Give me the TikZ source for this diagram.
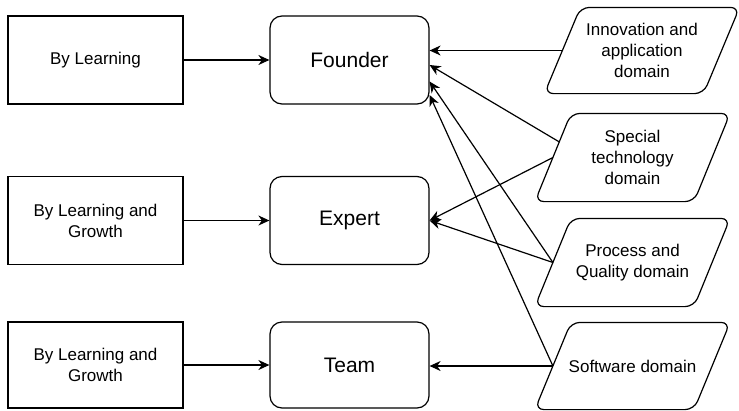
\documentclass[tikz,border=0pt]{standalone}
\usepackage{fontspec}
\setmainfont{Liberation Sans}
\usetikzlibrary{arrows.meta,calc}
\begin{document}
\begin{tikzpicture}[x=1pt,y=-1pt,
  line width=1.2pt,
  every node/.style={font=\fontsize{17}{21}\selectfont, align=center},
  plainbox/.style={draw, minimum width=175pt, minimum height=88pt, inner sep=0pt},
  rolebox/.style={draw, rounded corners=12pt, minimum width=159pt, minimum height=88pt, inner sep=0pt, font=\fontsize{21}{25}\selectfont},
  domainbox/.style={minimum width=158pt, minimum height=87pt, inner sep=0pt},
  arr/.style={-{Stealth[length=11pt,width=10pt,inset=3.5pt]}}]
\useasboundingbox (0,0) rectangle (739,410);

% sources of growth
\node[plainbox] (l1) at (95.5,60) {By Learning};
\node[plainbox] (l2) at (95.5,220.5) {By Learning and\\Growth};
\node[plainbox, minimum height=86pt] (l3) at (95.5,365) {By Learning and\\Growth};

% roles
\node[rolebox] (founder) at (349.5,60) {Founder};
\node[rolebox] (expert) at (349.5,220.5) {Expert};
\node[rolebox, minimum height=86pt] (team) at (349.5,365) {Team};

% knowledge domains
\node[domainbox, minimum height=85pt] (inn) at (642,50.5) {Innovation and\\application\\domain};
\node[domainbox] (spec) at (632.5,157.5) {Special\\technology\\domain};
\node[domainbox] (proc) at (632.5,262.5) {Process and\\Quality domain};
\node[domainbox, minimum height=86pt] (soft) at (632.5,366) {Software domain};

% slanted outlines of the domain boxes
\foreach \n in {inn,spec,proc,soft}
  \draw[rounded corners=9pt] ([xshift=-18pt]\n.south west) -- ([xshift=18pt]\n.north west)
    -- ([xshift=18pt]\n.north east) -- ([xshift=-18pt]\n.south east) -- cycle;

\coordinate (spec-up) at ($(spec.west)+(6.5,-15.5)$);

% connectors
\draw[arr] (l1) -- (founder);
\draw[arr] (l2) -- (expert);
\draw[arr] (l3) -- (team);

\draw[arr] (inn.west) -- (inn.west -| founder.east);
\draw[arr] (spec-up) -- ([yshift=-5pt]founder.east);
\draw[arr] (proc.west) -- ([yshift=-21.5pt]founder.east);
\draw[arr] (soft.west) -- ([yshift=-35pt]founder.east);
\draw[arr] (spec.west) -- (expert.east);
\draw[arr] (proc.west) -- (expert.east);
\draw[arr] (soft.west) -- (soft.west -| team.east);
\end{tikzpicture}
\end{document}
